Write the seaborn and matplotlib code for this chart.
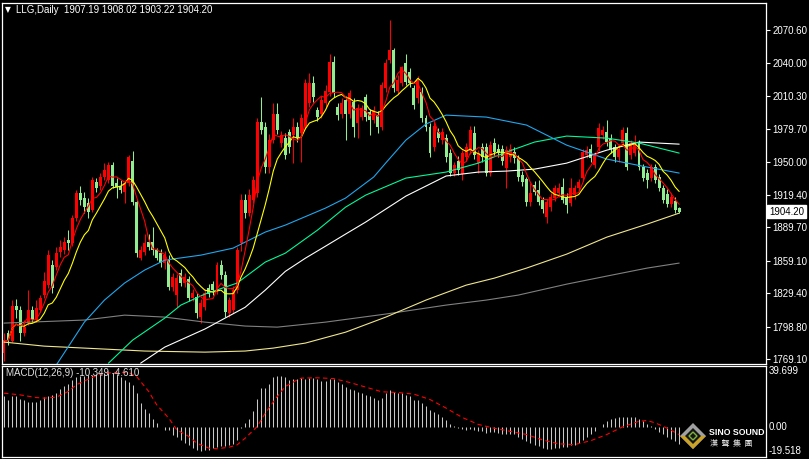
import numpy as np
import pandas as pd
import matplotlib
matplotlib.use("Agg")
import matplotlib.pyplot as plt
import seaborn as sns
from matplotlib.patches import Polygon

# ---------------- data ----------------
opens = [1775,1793,1786,1818,1814,1793,1802,1814,1805,1814,
         1828,1837,1855,1853,1867,1869,1878,1875,1898,1921,
         1917,1912,1906,1931,1928,1936,1933,1947,1930,1928,
         1922,1930,1951,1913,1862,1867,1876,1876,1869,1866,
         1857,1860,1835,1828,1848,1839,1842,1825,1826,1808,
         1817,1834,1838,1832,1855,1846,1811,1814,1832,1875,
         1915,1903,1915,1921,1986,1982,1945,1970,1994,1967,
         1972,1977,1974,1982,1976,1983,2004,2022,1997,1994,
         2004,2014,2041,2000,1994,2006,1994,2005,1985,1991,
         2009,1995,1988,1993,1982,2017,2043,2052,2015,2022,
         2040,2032,2017,2008,2014,1990,1982,1963,1977,1970,
         1972,1958,1940,1951,1939,1954,1960,1976,1949,1963,
         1963,1940,1967,1962,1962,1944,1954,1959,1953,1938,
         1934,1913,1929,1924,1915,1899,1908,1917,1921,1927,
         1918,1912,1919,1926,1935,1956,1962,1947,1963,1974,
         1977,1972,1963,1954,1967,1976,1956,1958,1967,1945,
         1940,1935,1945,1936,1926,1920,1911,1914,1907.19]
highs = [1793,1796,1823,1824,1818,1805,1832,1818,1823,1828,
         1849,1869,1860,1872,1878,1881,1887,1901,1924,1928,
         1922,1917,1936,1935,1940,1949,1950,1950,1935,1933,
         1933,1956,1960,1915,1873,1884,1884,1890,1871,1870,
         1868,1864,1848,1847,1852,1848,1845,1833,1830,1824,
         1833,1838,1841,1858,1860,1850,1826,1836,1872,1920,
         1920,1925,1937,1990,2009,1986,1975,2004,2004,1978,
         1976,1980,1990,1986,1994,2026,2031,2028,2000,2010,
         2020,2049,2047,2004,2008,2010,2016,2008,2003,2002,
         2012,1998,2001,1996,2023,2044,2080,2054,2029,2038,
         2049,2036,2020,2028,2018,1993,1985,1986,1981,1981,
         1975,1962,1950,1955,1961,1967,1983,1983,1961,1967,
         1967,1969,1972,1966,1965,1964,1966,1963,1956,1941,
         1936,1930,1932,1933,1918,1916,1921,1929,1930,1935,
         1921,1935,1929,1934,1962,1964,1966,1959,1985,1983,
         1988,1975,1966,1966,1982,1982,1970,1974,1970,1948,
         1943,1948,1948,1939,1929,1925,1921,1918,1908.02]
lows = [1767,1782,1785,1807,1786,1790,1800,1803,1803,1812,
        1825,1834,1830,1851,1863,1865,1869,1873,1896,1910,
        1903,1898,1904,1922,1924,1933,1930,1926,1917,1921,
        1912,1928,1910,1863,1860,1864,1869,1864,1860,1853,
        1852,1832,1831,1817,1836,1835,1822,1822,1807,1802,
        1814,1826,1828,1829,1842,1808,1808,1811,1830,1868,
        1898,1900,1912,1918,1975,1940,1940,1967,1975,1963,
        1952,1958,1949,1968,1950,1980,2000,2005,1987,1990,
        2000,2010,2009,1988,1990,1970,1990,1973,1972,1988,
        1987,1974,1985,1976,1979,2014,2040,2014,2012,2019,
        2020,2018,1998,2004,1986,1978,1954,1960,1968,1966,
        1950,1937,1937,1938,1933,1951,1957,1952,1940,1950,
        1937,1937,1955,1954,1947,1926,1950,1949,1932,1928,
        1909,1909,1919,1910,1903,1894,1905,1914,1918,1912,
        1903,1909,1916,1923,1932,1953,1950,1944,1960,1971,
        1964,1958,1950,1950,1964,1942,1952,1955,1942,1932,
        1926,1932,1930,1923,1912,1908,1908,1903,1903.22]
closes = [1786,1786,1818,1814,1793,1798,1814,1805,1816,1825,
          1841,1864,1834,1866,1872,1876,1875,1898,1921,1915,
          1908,1904,1933,1926,1936,1942,1947,1928,1927,1924,
          1930,1954,1913,1866,1869,1875,1872,1869,1862,1857,
          1864,1835,1844,1843,1839,1844,1825,1830,1811,1820,
          1830,1829,1832,1855,1846,1812,1823,1832,1869,1915,
          1903,1919,1933,1986,1979,1945,1970,1994,1979,1974,
          1956,1963,1982,1972,1990,2022,2022,2009,1991,2006,
          2015,2041,2013,1993,2004,1994,2013,1982,1999,1999,
          1991,1988,1997,1982,2020,2040,2052,2017,2025,2037,
          2023,2022,2002,2025,1990,1982,1958,1983,1972,1977,
          1954,1940,1947,1942,1958,1963,1979,1956,1958,1954,
          1940,1965,1959,1958,1951,1961,1962,1953,1936,1931,
          1913,1921,1922,1913,1907,1913,1918,1926,1926,1915,
          1910,1926,1926,1931,1959,1961,1953,1956,1981,1979,
          1968,1962,1954,1962,1979,1945,1967,1967,1945,1935,
          1933,1945,1933,1926,1915,1911,1918,1906,1904.20]

# long moving averages, read at sample bars
blue_idx = [13,20,25,30,35,40,49,57,65,70,80,85,92,95,100,105,110,120,130,140,150,160,168]
blue_val = [1763.5,1802.9,1823.1,1838.7,1850.6,1859.7,1864.3,1870.7,1885.4,1891.8,1907.4,
            1916.6,1935.9,1948.8,1969.7,1984.4,1992.6,1990.8,1983.5,1965.1,1952.3,1945.0,1939.5]
green_idx = [26,32,40,44,50,58,65,70,78,85,90,100,110,118,125,132,140,150,158,168]
green_val = [1765.3,1786.4,1806.6,1818.5,1828.6,1838.7,1857.9,1866.1,1887.2,1908.3,1919.3,
             1934.9,1940.4,1948.6,1958.7,1967.9,1973.4,1971.5,1967.0,1957.8]
white_idx = [34,40,50,60,65,70,75,80,85,90,100,110,118,125,132,140,150,158,168]
white_val = [1765.3,1780.0,1796.6,1816.5,1832.2,1849.4,1861.5,1872.5,1883.6,1894.6,1918.4,1936.8,
             1940.4,1941.3,1943.1,1948.6,1960.5,1967.9,1966.0]
khaki_idx = [0,10,20,35,50,60,67,75,85,95,105,115,122,130,140,150,160,168]
khaki_val = [1784.6,1780.9,1779.1,1776.4,1775.4,1776.4,1779.1,1783.7,1793.7,1807.5,1823.1,
             1836.8,1843.2,1852.4,1865.2,1880.8,1892.7,1902.8]
gray_idx = [0,20,30,40,50,60,68,80,95,110,120,128,140,150,160,168]
gray_val = [1802.0,1804.8,1809.3,1807.5,1802.9,1799.3,1798.3,1802.9,1810.3,1818.5,1823.1,
            1827.7,1837.7,1845.1,1852.4,1857.0]

macd_main = [20.0,17.8,20.0,20.0,18.2,17.8,16.7,16.7,16.7,17.8,
             19.5,20.4,21.0,22.1,24.7,26.4,28.1,30.3,32.4,33.3,
             33.3,33.9,33.9,34.5,35.0,35.0,35.0,35.0,34.5,32.8,
             30.3,29.6,27.5,22.1,15.7,11.8,9.2,5.4,2.8,0.3,
             -1.5,-1.9,-4.7,-6.2,-7.9,-9.7,-11.2,-13.3,-14.4,-15.4,
             -14.8,-14.4,-13.3,-12.7,-11.8,-12.2,-11.2,-10.5,-7.9,-0.4,
             3.2,5.4,10.9,18.2,25.3,25.3,28.1,32.8,33.3,33.3,
             32.8,30.7,31.1,31.1,31.8,
             31,32,32,31,30, 30,31,31,29,28, 26,25,24,23,22,
             21,20,19,18,19, 22,24,23,22,22, 21,20,18,18,16,
             14,11,10,8.5,7, 5,2.5,1,-0.5,-1, -1.5,-1,-1.5,-2,-2.5,
             -3.5,-3,-3,-3.5,-4, -4,-4,-4.5,-6,-7.5, -9,-10,-11,-12,-13,
             -14,-14,-13.5,-13,-12.5, -12.5,-11.5,-11,-10,-8, -6,-4,-2.5,0,2.5,
             4.5,5.5,6,6.5,7, 7,7,6.5,5.5,4, 2.5,1,-1,-3.2,-4.3,
             -6.4,-7.5,-8.6,-10.349]
sig_idx = [0,4,8,10,13,16,18,21,24,28,31,33,36,38,41,43,46,48,51,53,
           56,58,60,63,65,68,70,73,74,78,82,86,90,94,98,102,106,110,114,118,
           122,126,130,134,138,142,146,150,154,158,160,162,164,166,168]
sig_val = [22.1,21.0,19.3,18.9,19.5,23.2,27.5,31.1,34.5,35.6,35.4,32.8,23.2,14.6,6.0,-1.5,-5.8,-10.1,-13.3,-13.7,
           -12.7,-11.2,-6.9,0.6,9.2,20.0,26.4,30.7,31.8,32,31.5,29,26,23,22.5,21.5,18,12.5,6.5,2,
           -0.5,-2.5,-4.5,-8,-10.5,-11,-8.5,-4.5,0.5,4,4.5,3,0.8,-1.8,-4.61]

price_ticks = [2070.60,2040.00,2010.30,1979.70,1950.00,1919.40,1889.70,1859.10,1829.40,1798.80,1769.10]
title_text = "LLG,Daily  1907.19 1908.02 1903.22 1904.20"
macd_text = "MACD(12,26,9) -10.349 -4.610"
last_price = 1904.20

# ---------------- style ----------------
sns.set_theme(style="dark")
plt.rcParams["font.family"] = ["Liberation Sans", "DejaVu Sans"]
RED = "#FF0000"
GREEN = "#90EE90"

W, H = 809, 459
fig = plt.figure(figsize=(W / 100, H / 100), dpi=100, facecolor="black")

def px_axes(l, t, r, b):
    return fig.add_axes([l / W, 1 - b / H, (r - l) / W, (b - t) / H])

def ftext(x, y, s, **kw):
    fig.text(x / W, 1 - y / H, s, **kw)

ax = px_axes(1.5, 2.5, 766, 363.5)
axm = px_axes(1.5, 365.5, 766, 456.5)
for a in (ax, axm):
    a.set_facecolor("black")
    a.grid(False)
    for sp in a.spines.values():
        sp.set_color("white")
        sp.set_linewidth(0.9)
    a.set_xlim(-0.62, 189.6)
    a.set_xticks([])

# ---------------- candles ----------------
o = np.array(opens, float); c = np.array(closes, float)
hi = np.array(highs, float); lo = np.array(lows, float)
xi = np.arange(len(c))
cols = np.where(c >= o, RED, GREEN)
ax.vlines(xi, lo, hi, colors=cols, lw=0.75)
bb = np.minimum(o, c)
bh = np.maximum(np.abs(c - o), 0.7)
ax.bar(xi, bh, bottom=bb, width=0.74, color=cols, linewidth=0)

# ---------------- moving averages ----------------
ma5 = pd.Series(c).rolling(5, min_periods=1).mean()
ma10 = pd.Series(c).rolling(10, min_periods=1).mean()
lw = 0.8
for idx, val, col in [(gray_idx, gray_val, "#808080"),
                      (khaki_idx, khaki_val, "#F0E68C"),
                      (white_idx, white_val, "#FFFFFF"),
                      (green_idx, green_val, "#00FA9A"),
                      (blue_idx, blue_val, "#1EA8F0")]:
    sns.lineplot(x=idx, y=val, ax=ax, color=col, lw=lw, legend=False)
sns.lineplot(x=xi, y=ma10.values, ax=ax, color="#FFFF00", lw=lw, legend=False)
sns.lineplot(x=xi, y=ma5.values, ax=ax, color=RED, lw=lw, legend=False)

ax.set_ylim(1764.98, 2095.80)
ax.set_yticks(price_ticks)
ax.set_yticklabels([f"{v:.2f}" for v in price_ticks])
ax.tick_params(axis="y", left=False, labelleft=False, right=True, labelright=True,
               colors="white", labelcolor="white", length=3, width=0.8,
               direction="out", labelsize=7, pad=1.5)
ax.set_xlabel(""); ax.set_ylabel("")

ax.annotate(f"{last_price:.2f}", xy=(1, last_price), xycoords=ax.get_yaxis_transform(),
            xytext=(3, 0), textcoords="offset pixels", ha="left", va="center",
            fontsize=7, color="black",
            bbox=dict(boxstyle="square,pad=0.18", fc="white", ec="white"),
            annotation_clip=False)

# ---------------- MACD ----------------
axm.vlines(xi, 0, macd_main, colors="#C8C8C8", lw=0.75)
sns.lineplot(x=sig_idx, y=sig_val, ax=axm, color=RED, lw=0.8, legend=False,
             linestyle=(0, (4, 3)))
axm.set_ylim(-18.67, 39.91)
axm.set_yticks([])
axm.set_xlabel(""); axm.set_ylabel("")

# ---------------- texts ----------------
ftext(4.5, 10, "\u25BC", color="white", fontsize=5.5, va="center",
      family=["DejaVu Sans"])
ftext(16, 10, title_text, color="white", fontsize=7, va="center")
ftext(6, 373, macd_text, color="#E0E0E0", fontsize=7, va="center")
ftext(769, 370.5, "39.699", color="white", fontsize=7, va="center")
ftext(769, 426.7, "0.00", color="white", fontsize=7, va="center")
ftext(769, 450.5, "-19.518", color="white", fontsize=7, va="center")

# ---------------- logo ----------------
def P(x, y):
    return (x / W, 1 - y / H)

cx, cy, r = 693, 436, 13
fig.add_artist(Polygon([P(cx, cy - r), P(cx + r, cy), P(cx, cy + r), P(cx - r, cy)],
                       closed=True, fc="#A0A0A0", ec="none", transform=fig.transFigure))
fig.add_artist(Polygon([P(cx - r, cy), P(cx + r, cy), P(cx, cy + r)],
                       closed=True, fc="#C9A227", ec="none", transform=fig.transFigure))
ri = 8
fig.add_artist(Polygon([P(cx, cy - ri), P(cx + ri, cy), P(cx, cy + ri), P(cx - ri, cy)],
                       closed=True, fc="#151515", ec="none", transform=fig.transFigure))
fig.add_artist(Polygon([P(cx, cy - 4), P(cx + 4, cy), P(cx, cy + 4), P(cx - 4, cy)],
                       closed=True, fc="none", ec="#7DB23A", lw=1.0, transform=fig.transFigure))
ftext(709, 432.5, "SINO SOUND", color="white", fontsize=6.3, fontweight="bold", va="center")
ftext(710, 443.5, "漢  聲  集  團", color="#E8E8E8", fontsize=5.8, va="center",
      family=["Noto Sans CJK TC", "DejaVu Sans"])

fig.savefig("out.png", dpi=100, facecolor="black")
